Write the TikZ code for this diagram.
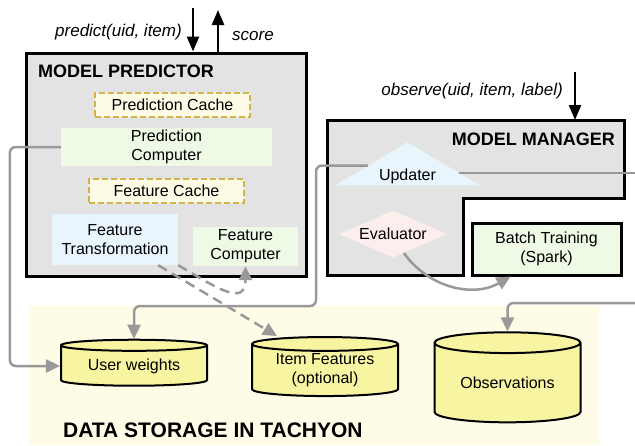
\documentclass[tikz,border=0pt]{standalone}
\usepackage{fontspec}
\setmainfont{Liberation Sans}
\usetikzlibrary{positioning}
\usetikzlibrary{shapes.geometric}
\usetikzlibrary{arrows.meta}

\definecolor{boxgray}{HTML}{E3E3E3}
\definecolor{cachefill}{HTML}{FDFBE6}
\definecolor{cacheline}{HTML}{D2B34A}
\definecolor{compgreen}{HTML}{EEFAE6}
\definecolor{transblue}{HTML}{E8F5FC}
\definecolor{evalpink}{HTML}{FDEEEE}
\definecolor{storefill}{HTML}{FEFCE7}
\definecolor{dbyellow}{HTML}{F8F5A2}
\definecolor{linkgray}{HTML}{999999}

\tikzset{
  module/.style={draw,line width=3pt,fill=boxgray},
  title/.style={font=\bfseries\fontsize{18}{20}\selectfont,inner sep=0pt},
  call/.style={font=\itshape\fontsize{17}{20}\selectfont,inner sep=0pt},
  cache/.style={draw=cacheline,dash pattern=on 6pt off 3pt,line width=2pt,fill=cachefill,minimum width=155pt,minimum height=24pt,inner sep=0pt},
  comp/.style={fill=compgreen,align=center,inner sep=0pt},
  db/.style={cylinder,shape border rotate=90,draw,line width=2pt,fill=dbyellow,align=center,minimum width=146pt,inner sep=0pt},
  callarrow/.style={line width=2.5pt,-{Triangle[length=15pt,width=12pt]}},
  link/.style={draw=linkgray,line width=2.5pt,rounded corners=6pt,-{Triangle[length=14pt,width=13pt]}},
  dlink/.style={link,dash pattern=on 10pt off 6pt}
}

\begin{document}
\begin{tikzpicture}[x=1pt,y=1pt,font=\fontsize{16}{19}\selectfont]
  \useasboundingbox (0,0) rectangle (635,-445);
  % data storage area
  \node[fill=storefill,minimum width=570pt,minimum height=139pt,inner sep=0pt] (store) at (314,-375.5) {};
  \node[font=\bfseries\fontsize{21}{24}\selectfont,inner sep=0pt,anchor=base west] (storetitle) at (63,-437) {DATA STORAGE IN TACHYON};
  \node[db,minimum height=46pt,aspect=0.12] (uw) at (134,-366) {User weights};
  \node[db,minimum height=59pt,aspect=0.14] (if) at (325,-370.5) {Item Features\\(optional)};
  \node[db,minimum height=90pt,aspect=0.22] (obs) at (507.5,-383) {Observations};

  % model predictor
  \node[module,minimum width=280pt,minimum height=223pt] (pred) at (166,-164.5) {};
  \node[title,anchor=base west] (predtitle) at (38,-77) {MODEL PREDICTOR};
  \node[comp,minimum width=211pt,minimum height=38pt] (pcomp) at (166.5,-147) {Prediction\\Computer};
  \node[cache,above=10pt of pcomp,xshift=6pt] (pcache) {Prediction Cache};
  \node[cache,below=12pt of pcomp] (fcache) {Feature Cache};
  \node[fill=transblue,align=center,inner sep=0pt,minimum width=126pt,minimum height=51pt] (ftrans) at (115,-239.5) {Feature\\Transformation};
  \node[comp,minimum width=105pt,minimum height=39pt] (fcomp) at (245.5,-246.5) {Feature\\Computer};

  % model manager
  \coordinate (mgrnw) at (327,-120);
  \draw[module] (mgrnw) -- ++(297,0) -- ++(0,-78) -- ++(-161,0) -- ++(0,-77) -- ++(-136,0) -- cycle;
  \node[title,anchor=base east] (mgrtitle) at (615,-145) {MODEL MANAGER};
  \node[isosceles triangle,shape border rotate=90,isosceles triangle stretches,minimum width=145pt,minimum height=43pt,inner sep=0pt,fill=transblue] (upd) at (407.5,-165.5) {\makebox[0pt]{\raisebox{-15pt}[0pt][0pt]{Updater}}};
  \node[diamond,aspect=2.3,minimum width=108pt,minimum height=47pt,inner sep=0pt,fill=evalpink] (eval) at (393,-234) {Evaluator};
  \node[draw,line width=3pt,fill=compgreen,align=center,minimum width=149pt,minimum height=52pt] (batch) at (546.5,-249) {Batch Training\\(Spark)};

  % calls
  \coordinate (predin) at (193,-8);
  \coordinate (scoreout) at (218,-10);
  \coordinate (obsin) at (575,-72);
  \draw[callarrow] (predin) -- (predin |- pred.north);
  \draw[callarrow] (scoreout |- pred.north) -- (scoreout);
  \draw[callarrow] (obsin) -- (obsin |- mgrnw);
  \node[call,anchor=base east] (predlbl) at (182,-36) {predict(uid, item)};
  \node[call,anchor=base west] (scorelbl) at (232,-40) {score};
  \node[call,anchor=base east] (obslbl) at (563,-95) {observe(uid, item, label)};

  % links
  \coordinate (updout) at (640,-172);
  \coordinate (obsfeed) at (640,-303);
  \draw[link] (pcomp.west) -- ++(-51,0) |- (uw.west);
  \draw[link] (upd.west) -| (316,-306) -| (uw.north);
  \draw[link,-] (upd.-8) -- (upd.-8 -| updout);
  \draw[link] (obsfeed) -| (obs.north);
  \draw[link] (eval.-60) to[out=-55,in=210] ([xshift=40pt]batch.south west);
  \draw[dlink] (ftrans.south east) to[out=-30,in=-90,looseness=1.6] (fcomp.south);
  \draw[dlink] ([xshift=-20pt]ftrans.south east) -- ([xshift=-48pt]if.north);
\end{tikzpicture}
\end{document}
